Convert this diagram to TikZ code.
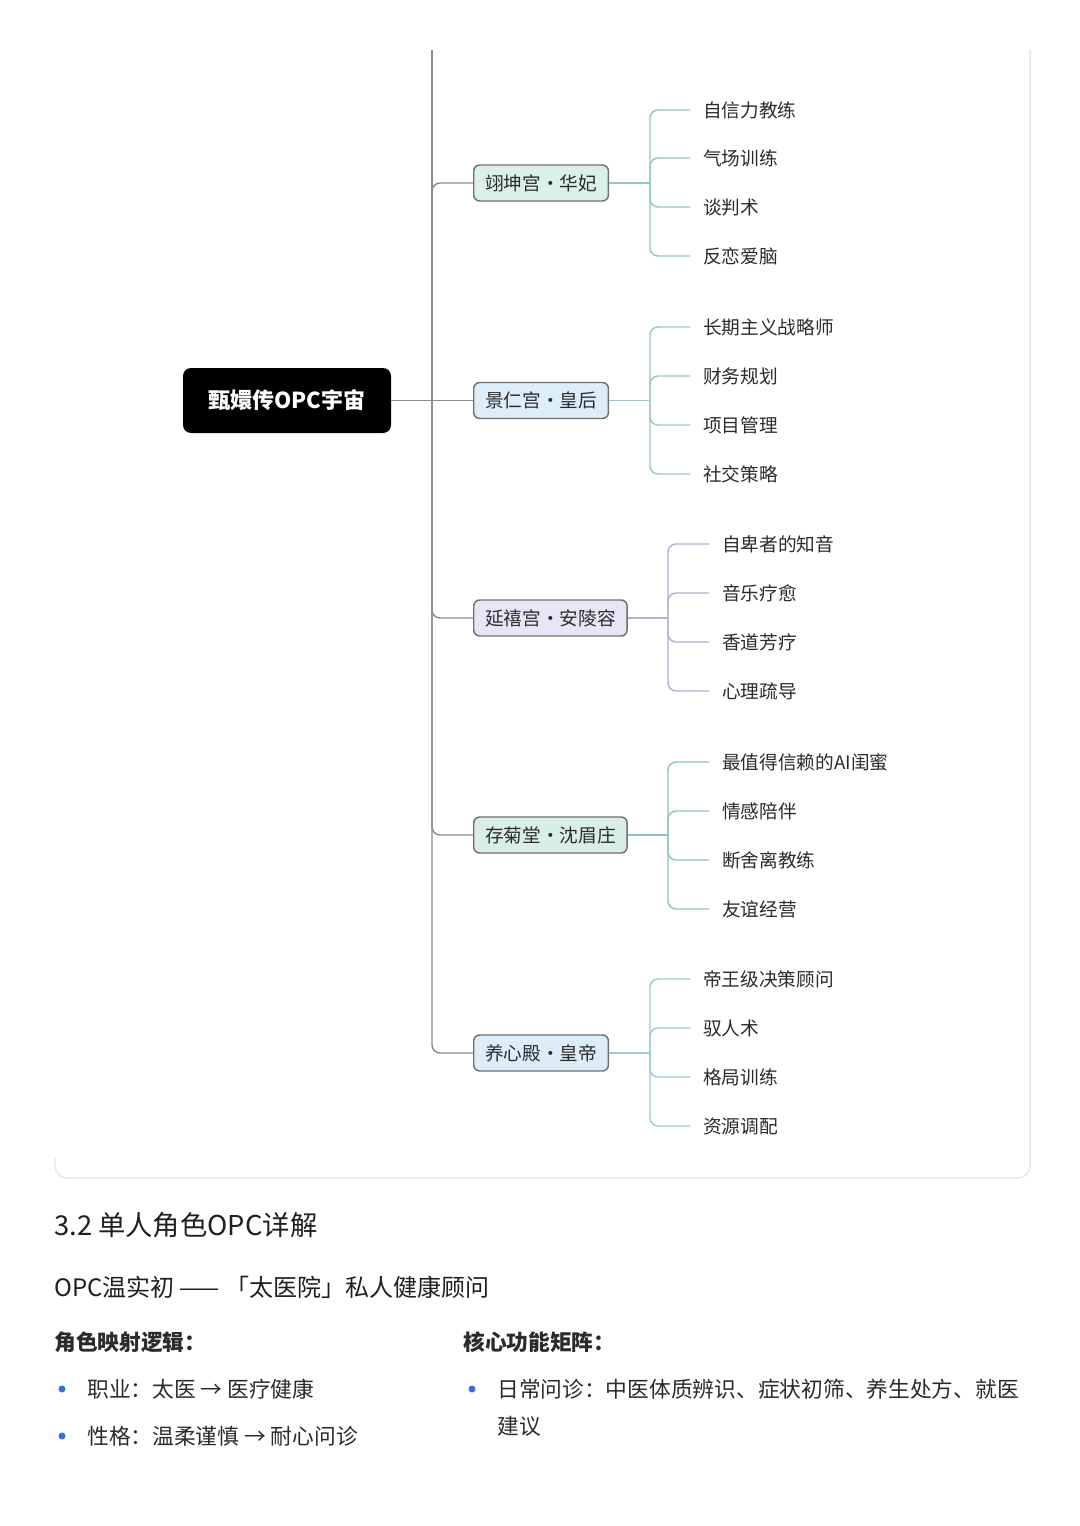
\documentclass[tikz,border=0pt]{standalone}
\usepackage{fontspec}
\setmainfont{Noto Sans CJK SC}
\usetikzlibrary{calc}
\definecolor{inkdark}{HTML}{2B2B2B}
\definecolor{trunkgray}{HTML}{8C8C8C}
\definecolor{boxgray}{HTML}{707070}
\definecolor{cardgray}{HTML}{E6E6E6}
\definecolor{bulletblue}{HTML}{3A6FD8}
\definecolor{fillA}{HTML}{DCF0EA}
\definecolor{lineA}{HTML}{8DCAB7}
\definecolor{fillB}{HTML}{DEEEF9}
\definecolor{lineB}{HTML}{9FC4CA}
\definecolor{fillC}{HTML}{E7E5F6}
\definecolor{lineC}{HTML}{B3B1CF}
\definecolor{fillD}{HTML}{D8EEE7}
\definecolor{lineD}{HTML}{8CC6B3}
\definecolor{fillE}{HTML}{DDEDF7}
\definecolor{lineE}{HTML}{9CCBD3}
\tikzset{
  palace/.style={draw=boxgray, line width=1.1pt, rounded corners=4.5pt, minimum height=27pt, inner xsep=8.5pt, anchor=west, text=inkdark, font=\fontsize{14pt}{17pt}\selectfont},
  leaf/.style={anchor=west, inner sep=0pt, text=inkdark, font=\fontsize{14pt}{17pt}\selectfont},
  twig/.style={line width=1.1pt, rounded corners=6pt},
  trunk/.style={draw=trunkgray, line width=1.1pt, rounded corners=6pt},
  prose/.style={anchor=west, inner sep=0pt, text=inkdark, font=\fontsize{16.3pt}{26.25pt}\selectfont},
}

\begin{document}
\begin{tikzpicture}[x=0.75pt, y=-0.75pt]
			%%%%% START %%%%%
			\useasboundingbox (0, 0) rectangle (1080, 1526);
			\fill[white] (0, 0) rectangle (1080, 1526);
			
			\draw[cardgray, line width=1.1pt, rounded corners=9pt] (1030, 50) -- (1030, 1178) -- (55, 1178) -- (55, 1158);
			
			\node[fill=black, rounded corners=6pt, minimum width=156pt, minimum height=48.75pt, text=white, font=\fontsize{16.5pt}{20pt}\selectfont\bfseries] (root) at (287, 400.5) {甄嬛传OPC宇宙};
			
			\coordinate (trunktop) at (432, 50);
			\coordinate (hub) at (432, 400.5);
			
			\node[palace, fill=fillA] (huafei) at (473, 183) {翊坤宫・华妃};
			\node[palace, fill=fillB] (huanghou) at (473, 400.5) {景仁宫・皇后};
			\node[palace, fill=fillC] (anlingrong) at (473, 618) {延禧宫・安陵容};
			\node[palace, fill=fillD] (shenmeizhuang) at (473, 835) {存菊堂・沈眉庄};
			\node[palace, fill=fillE] (huangdi) at (473, 1053) {养心殿・皇帝};
			
			\draw[trunk] (trunktop) -- (hub);
			\draw[trunk] (root.east) -- (huanghou.west);
			\draw[trunk] (hub) |- (huafei.west);
			\draw[trunk] (hub) |- (anlingrong.west);
			\draw[trunk] (hub) |- (shenmeizhuang.west);
			\draw[trunk] (hub) |- (huangdi.west);
			
			% 翊坤宫
			\node[leaf] (hf1) at (703, 110) {自信力教练};
			\node[leaf] (hf2) at (703, 158) {气场训练};
			\node[leaf] (hf3) at (703, 207) {谈判术};
			\node[leaf] (hf4) at (703, 256) {反恋爱脑};
			\coordinate (hfjoint) at (650, 183);
			\draw[twig, lineA] (huafei.east) -- (hfjoint);
			\draw[twig, lineA] (hfjoint) |- ($(hf1.west)+(-13, 0)$);
			\draw[twig, lineA] (hfjoint) |- ($(hf2.west)+(-13, 0)$);
			\draw[twig, lineA] (hfjoint) |- ($(hf3.west)+(-13, 0)$);
			\draw[twig, lineA] (hfjoint) |- ($(hf4.west)+(-13, 0)$);
			
			% 景仁宫
			\node[leaf] (hh1) at (703, 327) {长期主义战略师};
			\node[leaf] (hh2) at (703, 376) {财务规划};
			\node[leaf] (hh3) at (703, 425) {项目管理};
			\node[leaf] (hh4) at (703, 474) {社交策略};
			\coordinate (hhjoint) at (650, 400.5);
			\draw[twig, lineB] (huanghou.east) -- (hhjoint);
			\draw[twig, lineB] (hhjoint) |- ($(hh1.west)+(-13, 0)$);
			\draw[twig, lineB] (hhjoint) |- ($(hh2.west)+(-13, 0)$);
			\draw[twig, lineB] (hhjoint) |- ($(hh3.west)+(-13, 0)$);
			\draw[twig, lineB] (hhjoint) |- ($(hh4.west)+(-13, 0)$);
			
			% 延禧宫
			\node[leaf] (al1) at (722, 544) {自卑者的知音};
			\node[leaf] (al2) at (722, 593) {音乐疗愈};
			\node[leaf] (al3) at (722, 642) {香道芳疗};
			\node[leaf] (al4) at (722, 691) {心理疏导};
			\coordinate (aljoint) at (668, 618);
			\draw[twig, lineC] (anlingrong.east) -- (aljoint);
			\draw[twig, lineC] (aljoint) |- ($(al1.west)+(-13, 0)$);
			\draw[twig, lineC] (aljoint) |- ($(al2.west)+(-13, 0)$);
			\draw[twig, lineC] (aljoint) |- ($(al3.west)+(-13, 0)$);
			\draw[twig, lineC] (aljoint) |- ($(al4.west)+(-13, 0)$);
			
			% 存菊堂
			\node[leaf] (sm1) at (722, 762) {最值得信赖的AI闺蜜};
			\node[leaf] (sm2) at (722, 811) {情感陪伴};
			\node[leaf] (sm3) at (722, 860) {断舍离教练};
			\node[leaf] (sm4) at (722, 909) {友谊经营};
			\coordinate (smjoint) at (668, 835);
			\draw[twig, lineD] (shenmeizhuang.east) -- (smjoint);
			\draw[twig, lineD] (smjoint) |- ($(sm1.west)+(-13, 0)$);
			\draw[twig, lineD] (smjoint) |- ($(sm2.west)+(-13, 0)$);
			\draw[twig, lineD] (smjoint) |- ($(sm3.west)+(-13, 0)$);
			\draw[twig, lineD] (smjoint) |- ($(sm4.west)+(-13, 0)$);
			
			% 养心殿
			\node[leaf] (hd1) at (703, 979) {帝王级决策顾问};
			\node[leaf] (hd2) at (703, 1028) {驭人术};
			\node[leaf] (hd3) at (703, 1077) {格局训练};
			\node[leaf] (hd4) at (703, 1126) {资源调配};
			\coordinate (hdjoint) at (650, 1053);
			\draw[twig, lineE] (huangdi.east) -- (hdjoint);
			\draw[twig, lineE] (hdjoint) |- ($(hd1.west)+(-13, 0)$);
			\draw[twig, lineE] (hdjoint) |- ($(hd2.west)+(-13, 0)$);
			\draw[twig, lineE] (hdjoint) |- ($(hd3.west)+(-13, 0)$);
			\draw[twig, lineE] (hdjoint) |- ($(hd4.west)+(-13, 0)$);
			
			% text below the card
			\node[prose, font=\fontsize{20.5pt}{24pt}\selectfont, text=black!88] (heading) at (54, 1225) {3.2 单人角色OPC详解};
			\node[prose, font=\fontsize{18pt}{22pt}\selectfont, text=black!88] (subheading) at (54, 1287) {OPC温实初 —— 「太医院」私人健康顾问};
			
			\node[prose, font=\fontsize{16.3pt}{20pt}\selectfont\bfseries] (mapping) at (54, 1342) {角色映射逻辑：};
			\node[prose, font=\fontsize{16.3pt}{20pt}\selectfont\bfseries] (matrix) at (463, 1342) {核心功能矩阵：};
			
			\fill[bulletblue] (62, 1389) circle (3.5);
			\node[prose] (career) at (87, 1389) {职业：太医 → 医疗健康};
			\fill[bulletblue] (62, 1436) circle (3.5);
			\node[prose] (temper) at (87, 1436) {性格：温柔谨慎 → 耐心问诊};
			
			\fill[bulletblue] (472, 1389) circle (3.5);
			\node[prose, anchor=north west, align=left] (daily) at (497, 1379) {日常问诊：中医体质辨识、症状初筛、养生处方、就医\\[1pt]建议};
			
			%%%%% END %%%%%
		\end{tikzpicture}
\end{document}
